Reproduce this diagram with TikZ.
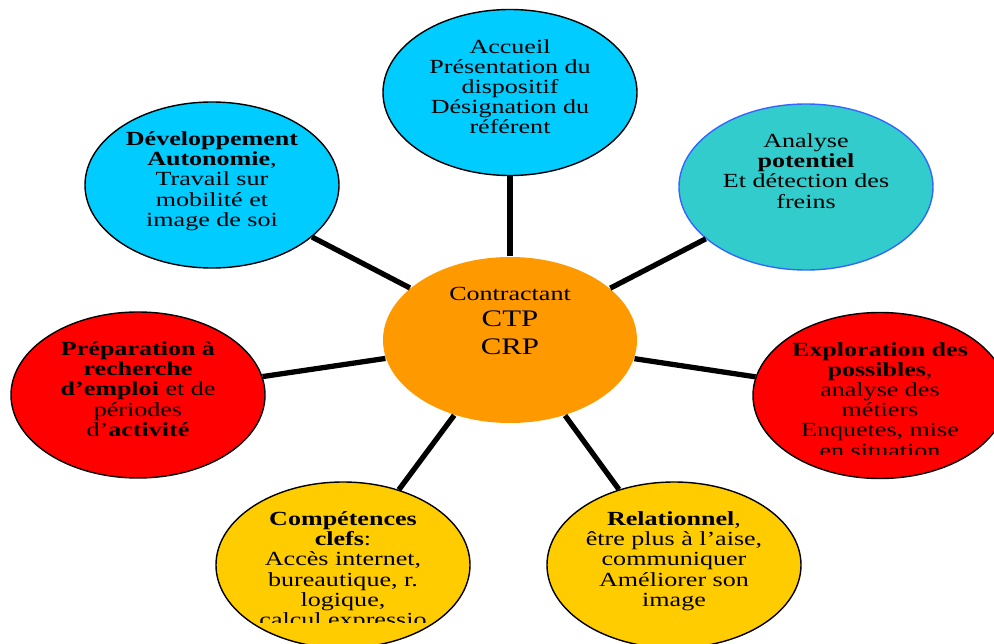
\documentclass[tikz,border=0pt]{standalone}
\usepackage{fontspec}
\setmainfont{Liberation Serif}[FakeStretch=1.3]
\usepackage{tikz}
\usetikzlibrary{shapes,positioning}
\definecolor{skyblue}{HTML}{00CCFF}
\definecolor{teal}{HTML}{33CCCC}
\definecolor{tealborder}{HTML}{3366FF}
\definecolor{redfill}{HTML}{FF0000}
\definecolor{yellowfill}{HTML}{FFCC00}
\definecolor{orangefill}{HTML}{FF9900}
\tikzstyle{bubble} = [ellipse, draw, line width = 0.8pt, minimum width = 5.08cm, minimum height = 3.32cm]
\tikzstyle{bubbletext} = [align = center, inner sep = 0pt, font = \fontsize{11.4}{11.5}\selectfont]
\tikzstyle{link} = [line width = 3pt]

\begin{document}
\begin{tikzpicture}
\useasboundingbox (0,0) rectangle (19.88,12.86);
% centre and the seven bubbles around it
\node [bubble, draw = none, fill = orangefill] (ctr) at (10.2,6.06) {};
\node [bubble, fill = skyblue] (accueil) at (10.2,11.01) {};
\node [bubble, fill = teal, draw = tealborder] (analyse) at (16.12,9.12) {};
\node [bubble, fill = redfill] (explo) at (17.6,4.95) {};
\node [bubble, fill = yellowfill] (relation) at (13.48,1.56) {};
\node [bubble, fill = yellowfill] (compet) at (6.86,1.56) {};
\node [bubble, fill = redfill] (prepa) at (2.76,4.96) {};
\node [bubble, fill = skyblue] (devel) at (4.24,9.16) {};

% spokes
\foreach \n in {accueil, analyse, explo, relation, compet, prepa, devel}
  \draw [link] (ctr) -- (\n);

% texts
\node [bubbletext, below = 0.62cm of ctr.north] (ctrtext) {Contractant\\[3.2pt]{\fontsize{13.5}{13.5}\selectfont CTP}\\[4.2pt]{\fontsize{13.5}{13.5}\selectfont CRP}};
\node [bubbletext, below = 0.6cm of accueil.north] (accueiltext) {Accueil\\Présentation du\\dispositif\\Désignation du\\référent};
\node [bubbletext, below = 0.6cm of analyse.north] (analysetext) {Analyse\\\textbf{potentiel}\\Et détection des\\freins};
\begin{scope}
\clip (0,3.78) rectangle (19.88,12.86);
\node [bubbletext, below = 0.6cm of explo.north] (explotext) {\textbf{Exploration des}\\\textbf{possibles},\\analyse des\\métiers\\Enquetes, mise\\en situation};
\end{scope}
\node [bubbletext, below = 0.6cm of relation.north] (relationtext) {\textbf{Relationnel},\\être plus à l’aise,\\communiquer\\Améliorer son\\image};
\begin{scope}
\clip (0,0.42) rectangle (19.88,12.86);
\node [bubbletext, below = 0.6cm of compet.north] (competext) {\textbf{Compétences}\\\textbf{clefs}:\\Accès internet,\\bureautique, r.\\logique,\\calcul expressio};
\end{scope}
\node [bubbletext, below = 0.6cm of prepa.north] (prepatext) {\textbf{Préparation à}\\\textbf{recherche}\\\textbf{d’emploi} et de\\périodes\\d’\textbf{activité}};
\node [bubbletext, below = 0.6cm of devel.north] (develtext) {\textbf{Développement}\\\textbf{Autonomie},\\Travail sur\\mobilité et\\image de soi};
\end{tikzpicture}
\end{document}
